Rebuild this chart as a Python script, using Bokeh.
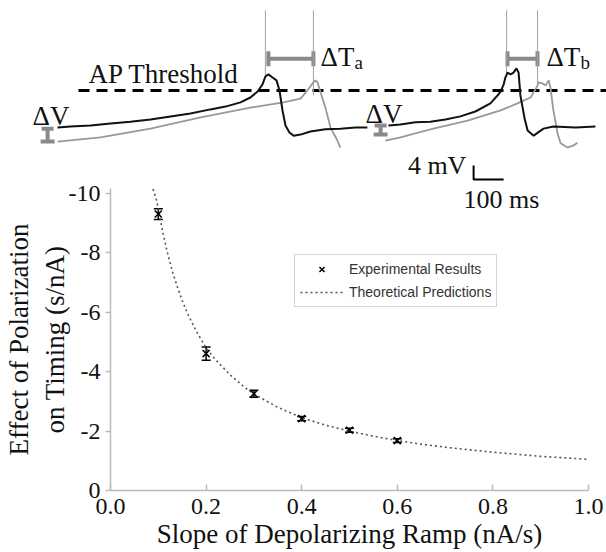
from bokeh.plotting import figure
from bokeh.layouts import column
from bokeh.models import (ColumnDataSource, Range1d, Whisker, TeeHead, Label,
                          Legend, LegendItem, FixedTicker)
from bokeh.core.properties import value
from bokeh.embed import file_html
from bokeh.resources import INLINE

SERIF = "Liberation Serif"
SANS = "Liberation Sans"

# ---------------- top panel: membrane traces (time in ms, voltage in mV rel. to AP threshold)
black1_t = [0, 43, 110, 177, 243, 310, 377, 443, 510, 560, 610, 643, 667, 683, 693, 703, 717, 730,
            740, 750, 760, 773, 787, 810, 843, 893, 943, 993, 1033]
black1_v = [-10.6, -10.3, -10.0, -9.4, -8.9, -8.3, -7.4, -6.6, -5.4, -4.6, -3.4, -2.0, -0.3, 1.7,
            4.0, 4.6, 3.7, 2.9, 0.0, -5.7, -10.0, -12.0, -12.9, -12.6, -11.7, -11.1, -10.9, -10.6, -10.6]
black2_t = [1103, 1143, 1193, 1243, 1293, 1343, 1393, 1443, 1467, 1477, 1487, 1493, 1500, 1510,
            1520, 1530, 1537, 1543, 1557, 1567, 1587, 1620, 1653, 1727, 1793]
black2_v = [-10.0, -9.7, -9.1, -8.9, -8.3, -7.4, -6.0, -3.7, -1.4, -0.3, 1.7, 3.7, 5.1, 4.6,
            5.1, 6.3, 5.1, -1.4, -8.0, -11.4, -12.9, -10.9, -10.3, -10.6, -10.3]
gray1_t = [0, 143, 310, 477, 643, 753, 810, 833, 850, 860, 867, 877, 893, 910, 933, 943]
gray1_v = [-14.6, -13.4, -10.9, -7.7, -4.9, -3.4, -2.3, 0.0, 2.0, 2.9, 2.3, -0.6, -4.9, -10.6, -14.3, -16.3]
gray2_t = [1093, 1143, 1253, 1367, 1477, 1533, 1577, 1587, 1600, 1603, 1617, 1627, 1637, 1643,
           1653, 1667, 1677, 1700, 1720, 1733]
gray2_v = [-14.3, -13.4, -10.9, -8.6, -5.7, -3.7, -2.0, -0.6, 1.4, 2.3, 2.0, 1.4, 2.9, 0.9,
           -5.7, -12.3, -15.1, -16.3, -15.7, -14.9]

spike_t = [693, 853, 1497, 1600]
spike_base = [4.0, -1.4, 4.3, 1.4]
spike_top = [22.9, 22.9, 22.9, 22.9]

threshold_t = [70, 1840]
threshold_v = [0.0, 0.0]

dT_v = [9.1, 9.1]
dT_start = [703, 1500]
dT_end = [853, 1600]

dV_t = [-33, 1077]
dV_low = [-14.6, -12.6]
dV_high = [-10.9, -10.0]

scale_t0, scale_v0 = 1387, -25.4
scale_ms, scale_mv = 100, 4

# ---------------- bottom panel data
slope = [0.1, 0.2, 0.3, 0.4, 0.5, 0.6]
effect = [-9.31, -4.61, -3.26, -2.42, -2.03, -1.68]
effect_err = [0.18, 0.22, 0.12, 0.07, 0.07, 0.06]

curve_x = [0.089, 0.095, 0.1, 0.11, 0.12, 0.13, 0.14, 0.15, 0.16, 0.18, 0.2, 0.22, 0.25, 0.28,
           0.3, 0.35, 0.4, 0.45, 0.5, 0.55, 0.6, 0.65, 0.7, 0.75, 0.8, 0.85, 0.9, 0.95, 1.0]
curve_y = [-10.15, -9.85, -9.5, -8.65, -7.95, -7.35, -6.85, -6.4, -6.0, -5.35, -4.8, -4.4, -3.9,
           -3.48, -3.25, -2.8, -2.45, -2.2, -2.0, -1.83, -1.68, -1.56, -1.46, -1.37, -1.29,
           -1.22, -1.15, -1.1, -1.05]

x_ticks = [0.0, 0.2, 0.4, 0.6, 0.8, 1.0]
x_tick_labels = ["0.0", "0.2", "0.4", "0.6", "0.8", "1.0"]
y_ticks = [0, -2, -4, -6, -8, -10]
y_tick_labels = ["0", "-2", "-4", "-6", "-8", "-10"]

# ================= top figure
top = figure(width=606, height=181, x_range=Range1d(-190, 1830), y_range=Range1d(-26.0, 25.71),
             toolbar_location=None, output_backend="svg", x_axis_location=None,
             y_axis_location=None, min_border=0, outline_line_color=None)
top.grid.visible = False
top.frame_align = False

GRAY_BAR = "#8a8a8a"
top.line(threshold_t, threshold_v, line_color="black", line_width=3, line_dash="11 7")
top.segment(x0=spike_t, y0=spike_base, x1=spike_t, y1=spike_top, line_color="#a0a0a0", line_width=1)
top.line(gray1_t, gray1_v, line_color="#999999", line_width=1.8)
top.line(gray2_t, gray2_v, line_color="#999999", line_width=1.8)
top.line(black1_t, black1_v, line_color="#111111", line_width=2)
top.line(black2_t, black2_v, line_color="#111111", line_width=2)

dT_src = ColumnDataSource(dict(v=dT_v, t0=dT_start, t1=dT_end))
top.add_layout(Whisker(source=dT_src, base="v", lower="t0", upper="t1", dimension="width",
                       line_color=GRAY_BAR, line_width=4,
                       lower_head=TeeHead(size=15, line_color=GRAY_BAR, line_width=4),
                       upper_head=TeeHead(size=15, line_color=GRAY_BAR, line_width=4)))
dV_src = ColumnDataSource(dict(t=dV_t, lo=dV_low, hi=dV_high))
top.add_layout(Whisker(source=dV_src, base="t", lower="lo", upper="hi", dimension="height",
                       line_color=GRAY_BAR, line_width=4,
                       lower_head=TeeHead(size=14, line_color=GRAY_BAR, line_width=4),
                       upper_head=TeeHead(size=12, line_color=GRAY_BAR, line_width=4)))

top.line([scale_t0, scale_t0, scale_t0 + scale_ms], [scale_v0 + scale_mv, scale_v0, scale_v0],
         line_color="black", line_width=2)

TXT_SHIFT = -9  # px, lifts glyph baselines onto their anchor
top.text(x=[103, -83, 1027, 877, 1630], y=[2.0, -10.0, -9.4, 7.1, 7.1],
         text=["AP Threshold", "ΔV", "ΔV", "ΔT", "ΔT"], y_offset=TXT_SHIFT,
         text_font=value(SERIF), text_font_size="27px", text_color="#111111",
         text_align="left", text_baseline="alphabetic")
top.text(x=[990, 1743], y=[5.3, 5.3], text=["a", "b"], y_offset=TXT_SHIFT, text_font=value(SERIF),
         text_font_size="19px", text_color="#111111", text_align="left", text_baseline="alphabetic")
top.text(x=[1363], y=[-23.9], text=["4 mV"], y_offset=TXT_SHIFT, text_font=value(SERIF),
         text_font_size="26px", text_color="#111111", text_align="right",
         text_baseline="alphabetic")

# ================= bottom figure
bot = figure(width=606, height=371, x_range=Range1d(0, 1.0), y_range=Range1d(0, -10.17),
             toolbar_location=None, output_backend="svg", min_border_left=105,
             min_border_right=18, min_border_top=7, min_border_bottom=62,
             outline_line_color=None)
bot.grid.visible = False
bot.frame_align = False

r_curve = bot.line(curve_x, curve_y, line_dash="2 3", line_color="#555555", line_width=1.6)
err_src = ColumnDataSource(dict(x=slope,
                                lo=[e - d for e, d in zip(effect, effect_err)],
                                hi=[e + d for e, d in zip(effect, effect_err)]))
bot.add_layout(Whisker(source=err_src, base="x", lower="lo", upper="hi", dimension="height",
                       line_color="black", line_width=1.5,
                       lower_head=TeeHead(size=9, line_color="black", line_width=1.5),
                       upper_head=TeeHead(size=9, line_color="black", line_width=1.5)))
r_pts = bot.scatter(slope, effect, marker="x", size=10, line_color="black", line_width=1.5)

legend = Legend(items=[LegendItem(label="Experimental Results", renderers=[r_pts]),
                       LegendItem(label="Theoretical Predictions", renderers=[r_curve])],
                location=(184, 183), border_line_color="#aaaaaa", border_line_width=1.5,
                background_fill_color="white", background_fill_alpha=1.0,
                label_text_font=SANS, label_text_font_size="14px", label_text_color="#333333",
                glyph_width=43, glyph_height=18, label_height=18, spacing=5, padding=5,
                margin=0, label_standoff=6)
bot.add_layout(legend)

for ax in (bot.xaxis, bot.yaxis):
    ax.axis_line_color = "#bbbbbb"
    ax.axis_line_width = 1.5
    ax.major_tick_line_color = "#bbbbbb"
    ax.major_tick_line_width = 1.5
    ax.minor_tick_line_color = None
    ax.major_label_text_font = SERIF
    ax.major_label_text_font_size = "24px"
    ax.major_label_text_color = "#111111"
    ax.axis_label_text_font = SERIF
    ax.axis_label_text_font_size = "27px"
    ax.axis_label_text_font_style = "normal"
    ax.axis_label_text_color = "#111111"

bot.xaxis.ticker = FixedTicker(ticks=x_ticks)
bot.xaxis.major_label_overrides = dict(zip(x_ticks, x_tick_labels))
bot.xaxis.major_tick_in = 6
bot.xaxis.major_tick_out = 0
bot.xaxis.major_label_standoff = 8
bot.xaxis.axis_label = "Slope of Depolarizing Ramp (nA/s)"
bot.xaxis.axis_label_standoff = 2

bot.yaxis.ticker = FixedTicker(ticks=y_ticks)
bot.yaxis.major_label_overrides = dict(zip(y_ticks, y_tick_labels))
bot.yaxis.major_tick_in = 0
bot.yaxis.major_tick_out = 5
bot.yaxis.major_label_standoff = 5
bot.yaxis.axis_label = "Effect of Polarization\non Timing (s/nA)"
bot.yaxis.axis_label_standoff = -4

# scale-bar time label (position relative to the plot frame)
bot.add_layout(Label(x=353, y=291, x_units="screen", y_units="screen", text="100 ms",
                     text_font=SERIF, text_font_size="26px", text_color="#111111",
                     text_baseline="alphabetic"))

layout = column(top, bot)
open("out.html", "w").write(file_html(layout, INLINE))
